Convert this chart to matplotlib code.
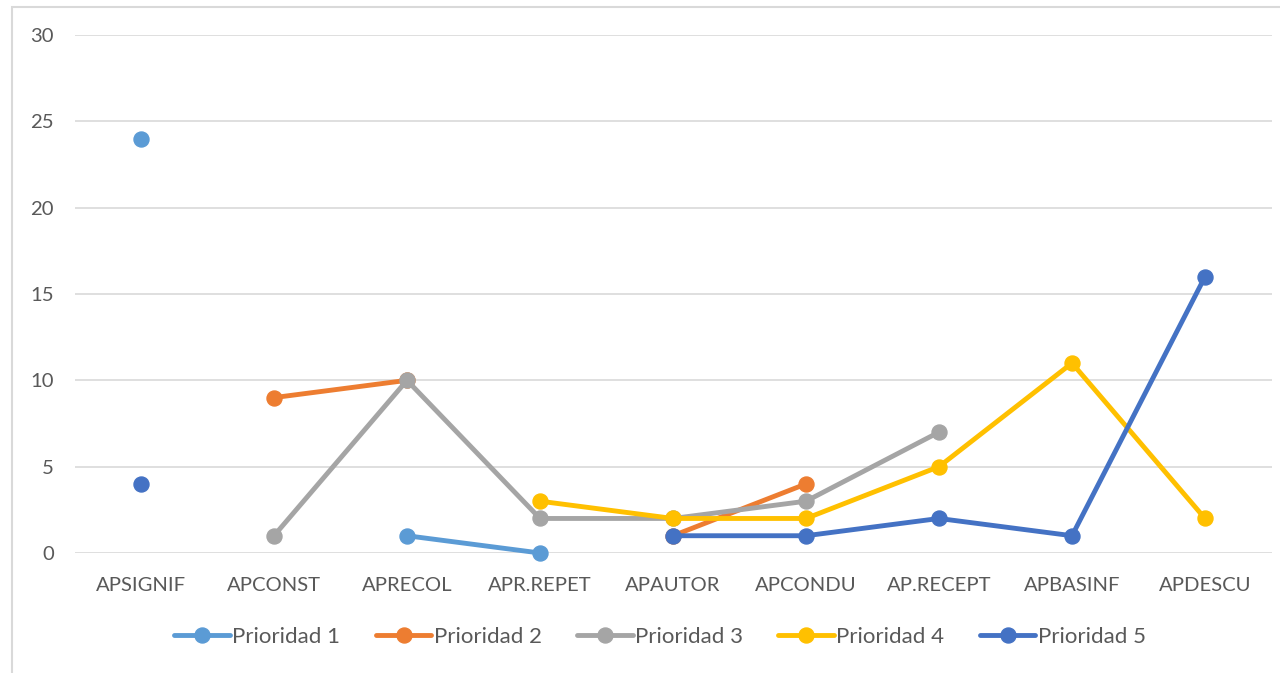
import numpy as np
import matplotlib
matplotlib.use("Agg")
import matplotlib.pyplot as plt
from matplotlib.patches import Rectangle

categories = ["APSIGNIF", "APCONST", "APRECOL", "APR.REPET", "APAUTOR",
              "APCONDU", "AP.RECEPT", "APBASINF", "APDESCU"]
nan = np.nan
prioridad1 = [24, nan, 1, 0, nan, nan, nan, nan, nan]
prioridad2 = [nan, 9, 10, nan, 1, 4, nan, nan, nan]
prioridad3 = [nan, 1, 10, 2, 2, 3, 7, nan, nan]
prioridad4 = [nan, nan, nan, 3, 2, 2, 5, 11, 2]
prioridad5 = [4, nan, nan, nan, 1, 1, 2, 1, 16]
series_names = ["Prioridad 1", "Prioridad 2", "Prioridad 3", "Prioridad 4", "Prioridad 5"]
series_values = [prioridad1, prioridad2, prioridad3, prioridad4, prioridad5]
colors = ["#5B9BD5", "#ED7D31", "#A5A5A5", "#FFC000", "#4472C4"]
yticks = [0, 5, 10, 15, 20, 25, 30]

plt.rcParams['font.family'] = ['Lato', 'DejaVu Sans']

W, H = 1280, 673
fig = plt.figure(figsize=(W / 100, H / 100), dpi=100)
fig.patches.append(Rectangle((12 / W, -0.1), 1.2, 1 - 7 / H + 0.1,
                             transform=fig.transFigure, fill=False,
                             edgecolor="#D9D9D9", linewidth=1.5))

left, right = 74.5 / W, 1271.5 / W
top, bottom = 1 - 35 / H, 1 - 553 / H
ax = fig.add_axes([left, bottom, right - left, top - bottom])

x = np.arange(len(categories))
for name, vals, c in zip(series_names, series_values, colors):
    ax.plot(x, vals, color=c, lw=3.5, marker="o", markersize=10.8,
            label=name, solid_capstyle="round", clip_on=False)

ax.set_xlim(-0.5, len(categories) - 0.5)
ax.set_ylim(0, 30)
ax.set_yticks(yticks)
ax.set_xticks(x)
ax.set_xticklabels(categories)
ax.grid(axis="y", color="#D9D9D9", lw=1.2)
ax.set_axisbelow(True)
for s in ax.spines.values():
    s.set_visible(False)
ax.tick_params(axis="both", length=0, labelsize=14.6, colors="#595959")
ax.tick_params(axis="x", pad=17)
ax.tick_params(axis="y", pad=15)

leg = fig.legend(loc="center", bbox_to_anchor=(660 / W, 1 - 637 / H), ncol=5,
                 frameon=False, fontsize=16, handlelength=2.5,
                 handletextpad=0.1, columnspacing=1.6)
for t in leg.get_texts():
    t.set_color("#595959")

fig.savefig("out.png", dpi=100)
